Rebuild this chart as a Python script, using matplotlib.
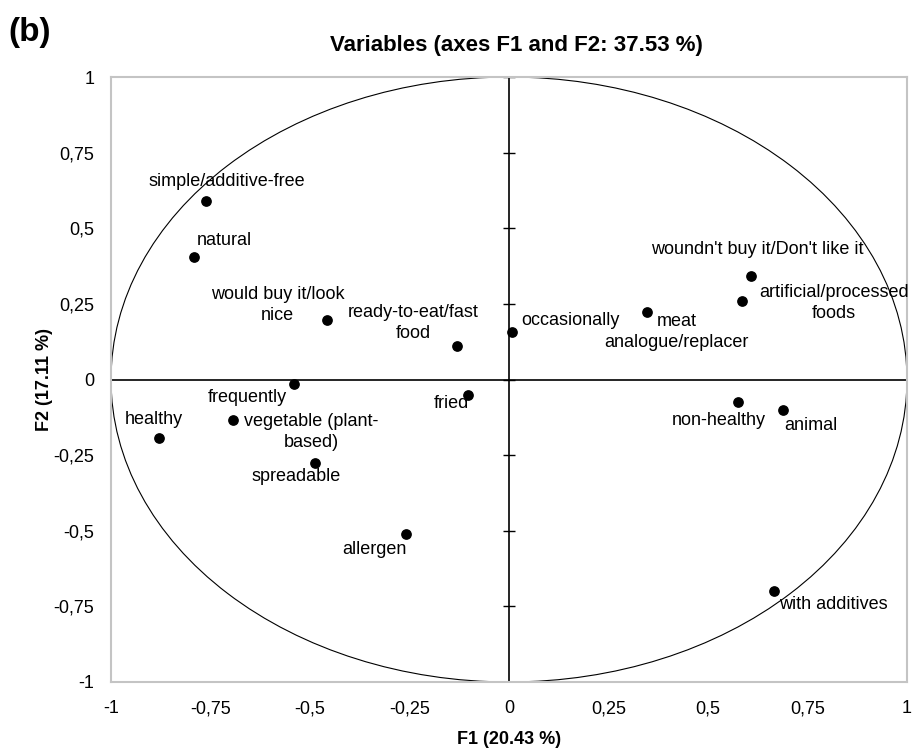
import matplotlib
matplotlib.use("Agg")
import matplotlib.pyplot as plt
from matplotlib.patches import Ellipse

plt.rcParams['font.family'] = ['Liberation Sans', 'DejaVu Sans']

# variable coordinates on F1 / F2
names = ["simple/additive-free", "natural", "would buy it/look\nnice",
         "ready-to-eat/fast\nfood", "occasionally", "meat\nanalogue/replacer",
         "woundn't buy it/Don't like it", "artificial/processed\nfoods",
         "non-healthy", "animal", "frequently", "fried", "healthy",
         "vegetable (plant-\nbased)", "spreadable", "allergen", "with additives"]
f1 = [-0.761, -0.792, -0.458, -0.131, 0.007, 0.346, 0.609, 0.585,
      0.575, 0.689, -0.539, -0.104, -0.879, -0.693, -0.487, -0.260, 0.666]
f2 = [0.590, 0.404, 0.197, 0.110, 0.156, 0.222, 0.343, 0.259,
      -0.075, -0.101, -0.015, -0.050, -0.193, -0.133, -0.275, -0.512, -0.698]

ticks = [-1, -0.75, -0.5, -0.25, 0, 0.25, 0.5, 0.75, 1]
tick_labels = ["-1", "-0,75", "-0,5", "-0,25", "0", "0,25", "0,5", "0,75", "1"]

# label offsets (pixels, text centre relative to the dot)
offsets = [(21, 20), (31, 17), (-49, 15), (-44, 23), (59, 12), (30, -20),
           (6, 26), (92, -2), (-19, -18), (28, -15), (-47, -13), (-16, -9),
           (-5, 18), (78, -12), (-19, -14), (-31, -15), (59, -14)]
line_h = 21  # pixels between lines of a wrapped label

fig = plt.figure(figsize=(9.21, 7.54), dpi=100)
ax = fig.add_axes([111/921, 1 - 682/754, 796/921, 605/754])

ax.set_xlim(-1, 1)
ax.set_ylim(-1, 1)
for s in ax.spines.values():
    s.set_color('#c4c4c4')
    s.set_linewidth(1.5)

ax.set_xticks(ticks)
ax.set_xticklabels(tick_labels)
ax.set_yticks(ticks)
ax.set_yticklabels(tick_labels)
ax.tick_params(length=0, labelsize=13, colors='black')
ax.tick_params(axis='x', pad=13)
ax.tick_params(axis='y', pad=12)

# unit circle and axes through origin
ax.add_patch(Ellipse((0, 0), 2, 2, fill=False, edgecolor='black', lw=0.8))
ax.axhline(0, color='black', lw=1.2)
ax.axvline(0, color='black', lw=1.2)
ax.scatter([0.0] * len(ticks), ticks, marker='_', s=75, color='black',
           linewidths=1.0, zorder=2)

ax.scatter(f1, f2, s=45, color='black', zorder=3)
for name, x, y, off in zip(names, f1, f2, offsets):
    lines = name.split("\n")
    top = off[1] + line_h * (len(lines) - 1) / 2
    for i, line in enumerate(lines):
        ax.annotate(line, (x, y), xytext=(off[0], top - i * line_h),
                    textcoords='offset pixels', ha='center', va='center',
                    fontsize=13)

ax.set_xlabel("F1 (20.43 %)", fontsize=13, fontweight='bold', labelpad=10)
ax.set_ylabel("F2 (17.11 %)", fontsize=13, fontweight='bold', labelpad=0)
ax.set_title("Variables (axes F1 and F2: 37.53 %)", fontsize=16,
             fontweight='bold', pad=19, x=0.509)
fig.text(8/921, 1 - 33/754, "(b)", fontsize=24, fontweight='bold',
         ha='left', va='center')

fig.savefig("out.png", dpi=100)
